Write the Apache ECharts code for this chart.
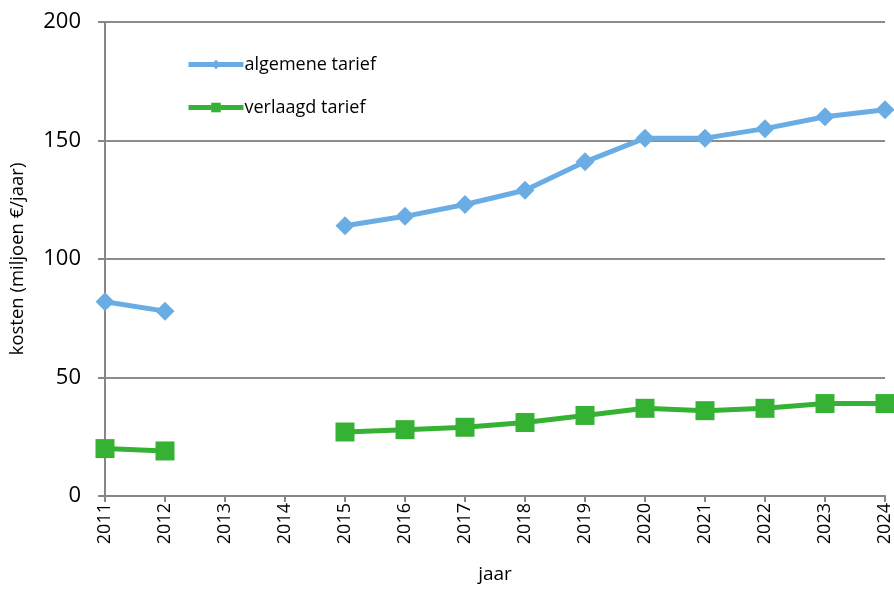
<!DOCTYPE html>
<html>
<head>
<meta charset="utf-8">
<script src="https://cdn.jsdelivr.net/npm/echarts@6/dist/echarts.min.js"></script>
<style>html,body{margin:0;padding:0;background:#fff}#c{width:894px;height:589px}</style>
</head>
<body>
<div id="c"></div>
<script>
const years = ['2011','2012','2013','2014','2015','2016','2017','2018','2019','2020','2021','2022','2023','2024'];
const algemeneTarief = [82, 78, null, null, 114, 118, 123, 129, 141, 151, 151, 155, 160, 163];
const verlaagdTarief = [20, 19, null, null, 27, 28, 29, 31, 34, 37, 36, 37, 39, 39];
const yTicks = [0, 50, 100, 150, 200];

const FONT = '"Open Sans", Lato, sans-serif';
const chart = echarts.init(document.getElementById('c'), null, {renderer: 'canvas'});
chart.setOption({
  animation: false,
  backgroundColor: '#ffffff',
  textStyle: {fontFamily: FONT},
  grid: {left: 105, right: 9, top: 22, bottom: 93, containLabel: false, outerBoundsMode: 'none'},
  legend: {
    orient: 'vertical', left: 181, top: 49, itemGap: 22,
    itemWidth: 55, itemHeight: 12,
    lineStyle: {width: 5},
    textStyle: {fontSize: 18, color: '#000', fontFamily: FONT, lineHeight: 21, padding: [0,0,0,-4]},
    data: ['algemene tarief', 'verlaagd tarief']
  },
  xAxis: {
    type: 'category', data: years, boundaryGap: false,
    name: 'jaar', nameLocation: 'middle', nameGap: 69,
    nameTextStyle: {fontSize: 19, color: '#000', fontFamily: FONT},
    axisLine: {lineStyle: {color: '#868686', width: 2}},
    axisTick: {show: true, inside: false, length: 6, lineStyle: {color: '#868686', width: 2}, alignWithLabel: true},
    axisLabel: {rotate: 90, fontSize: 18, color: '#000', margin: 7, fontFamily: FONT},
    splitLine: {show: false}
  },
  yAxis: {
    type: 'value', min: yTicks[0], max: yTicks[yTicks.length-1], interval: 50,
    name: 'kosten (miljoen €/jaar)', nameLocation: 'middle', nameGap: 78,
    nameTextStyle: {fontSize: 18.5, color: '#000', fontFamily: FONT},
    axisLine: {show: true, lineStyle: {color: '#868686', width: 2}},
    axisTick: {show: true, inside: false, length: 7, lineStyle: {color: '#868686', width: 2}},
    axisLabel: {fontSize: 22, color: '#000', margin: 24, fontFamily: FONT},
    splitLine: {show: true, lineStyle: {color: '#8c8c8c', width: 2}}
  },
  series: [
    {
      name: 'algemene tarief', type: 'line', data: algemeneTarief,
      connectNulls: false, symbol: 'diamond', symbolSize: 19,
      lineStyle: {color: '#6aade4', width: 5},
      itemStyle: {color: '#6aade4'}
    },
    {
      name: 'verlaagd tarief', type: 'line', data: verlaagdTarief,
      connectNulls: false, symbol: 'rect', symbolSize: 19,
      lineStyle: {color: '#35b233', width: 5},
      itemStyle: {color: '#35b233'}
    }
  ]
});
</script>
</body>
</html>
